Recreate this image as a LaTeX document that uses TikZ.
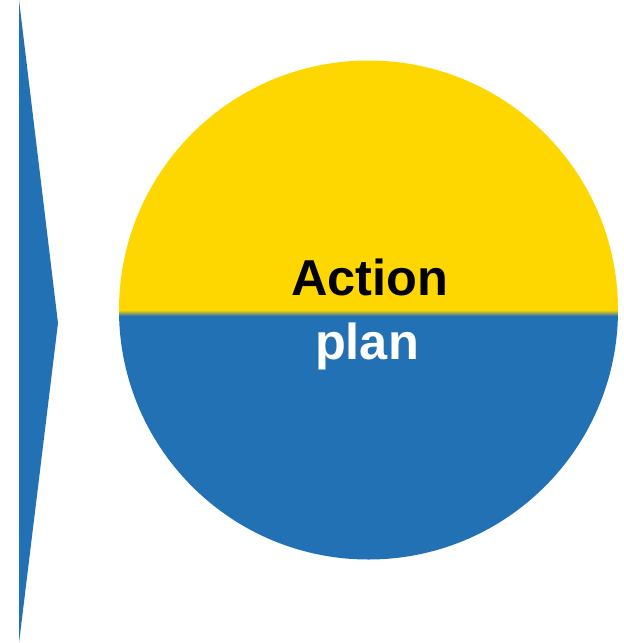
\documentclass[tikz,border=0pt]{standalone}
\usepackage{fontspec}
\setmainfont{Liberation Sans}
\definecolor{yel}{RGB}{255,215,0}
\definecolor{blu}{RGB}{34,113,181}
\begin{document}
\begin{tikzpicture}[x=1pt,y=-1pt,
  lbl/.style={font=\bfseries\fontsize{50.5}{50.5}\selectfont, inner sep=0pt, anchor=base}]
\useasboundingbox (0,0) rectangle (624,643);
\fill[blu] (19,0) -- (58,323) -- (19,643) -- cycle;
\begin{scope}
  \clip (368.5,310) circle (249.5pt);
  \fill[yel] (115,55) rectangle (622,313);
  \fill[blu] (115,313) rectangle (622,565);
  \shade[top color=yel, bottom color=blu] (115,310) rectangle (622,316);
\end{scope}
\node[lbl, text=black] (action) at (370,295.5) {Action};
\node[lbl, text=white] (plan) at (367,359) {plan};
\end{tikzpicture}
\end{document}
